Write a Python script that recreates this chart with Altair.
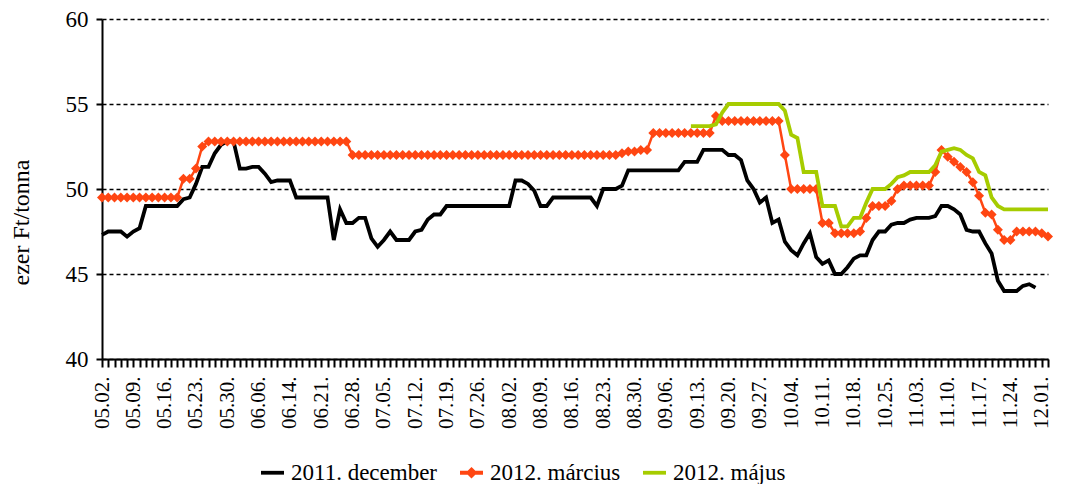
import json
import altair as alt
import pandas as pd

# Category tick labels (every 5th trading day)
labels = ["05.02.", "05.09.", "05.16.", "05.23.", "05.30.", "06.06.", "06.14.", "06.21.",
          "06.28.", "07.05.", "07.12.", "07.19.", "07.26.", "08.02.", "08.09.", "08.16.",
          "08.23.", "08.30.", "09.06.", "09.13.", "09.20.", "09.27.", "10.04.", "10.11.",
          "10.18.", "10.25.", "11.03.", "11.10.", "11.17.", "11.24.", "12.01."]
n_days = 152

series_names = ["2011. december", "2012. március", "2012. május"]
series_colors = ["#000000", "#FF4612", "#A6CC00"]

# 2011. december (from trading day 0)
dec_2011 = [
    47.3, 47.5, 47.5, 47.5, 47.2, 47.5, 47.7, 49.0, 49.0, 49.0,
    49.0, 49.0, 49.0, 49.4, 49.5, 50.3, 51.3, 51.3, 52.1, 52.6,
    52.8, 52.8, 51.2, 51.2, 51.3, 51.3, 50.9, 50.4, 50.5, 50.5,
    50.5, 49.5, 49.5, 49.5, 49.5, 49.5, 49.5, 47.0, 48.8, 48.0,
    48.0, 48.3, 48.3, 47.1, 46.6, 47.0, 47.5, 47.0, 47.0, 47.0,
    47.5, 47.6, 48.2, 48.5, 48.5, 49.0, 49.0, 49.0, 49.0, 49.0,
    49.0, 49.0, 49.0, 49.0, 49.0, 49.0, 50.5, 50.5, 50.3, 49.9,
    49.0, 49.0, 49.5, 49.5, 49.5, 49.5, 49.5, 49.5, 49.5, 49.0,
    50.0, 50.0, 50.0, 50.2, 51.1, 51.1, 51.1, 51.1, 51.1, 51.1,
    51.1, 51.1, 51.1, 51.6, 51.6, 51.6, 52.3, 52.3, 52.3, 52.3,
    52.0, 52.0, 51.7, 50.5, 50.0, 49.2, 49.5, 48.0, 48.2, 46.9,
    46.4, 46.1, 46.8, 47.4, 46.0, 45.6, 45.8, 45.0, 45.0, 45.4,
    45.9, 46.1, 46.1, 47.0, 47.5, 47.5, 47.9, 48.0, 48.0, 48.2,
    48.3, 48.3, 48.3, 48.4, 49.0, 49.0, 48.8, 48.5, 47.6, 47.5,
    47.5, 46.8, 46.2, 44.6, 44.0, 44.0, 44.0, 44.3, 44.4, 44.2,
]

# 2012. március (from trading day 0)
mar_2012 = [
    49.5, 49.5, 49.5, 49.5, 49.5, 49.5, 49.5, 49.5, 49.5, 49.5,
    49.5, 49.5, 49.5, 50.6, 50.6, 51.2, 52.5, 52.8, 52.8, 52.8,
    52.8, 52.8, 52.8, 52.8, 52.8, 52.8, 52.8, 52.8, 52.8, 52.8,
    52.8, 52.8, 52.8, 52.8, 52.8, 52.8, 52.8, 52.8, 52.8, 52.8,
    52.0, 52.0, 52.0, 52.0, 52.0, 52.0, 52.0, 52.0, 52.0, 52.0,
    52.0, 52.0, 52.0, 52.0, 52.0, 52.0, 52.0, 52.0, 52.0, 52.0,
    52.0, 52.0, 52.0, 52.0, 52.0, 52.0, 52.0, 52.0, 52.0, 52.0,
    52.0, 52.0, 52.0, 52.0, 52.0, 52.0, 52.0, 52.0, 52.0, 52.0,
    52.0, 52.0, 52.0, 52.1, 52.2, 52.2, 52.3, 52.3, 53.3, 53.3,
    53.3, 53.3, 53.3, 53.3, 53.3, 53.3, 53.3, 53.3, 54.3, 54.0,
    54.0, 54.0, 54.0, 54.0, 54.0, 54.0, 54.0, 54.0, 54.0, 52.0,
    50.0, 50.0, 50.0, 50.0, 50.0, 48.0, 48.0, 47.4, 47.4, 47.4,
    47.4, 47.5, 48.3, 49.0, 49.0, 49.0, 49.3, 50.0, 50.2, 50.2,
    50.2, 50.2, 50.2, 51.0, 52.3, 51.9, 51.6, 51.3, 51.0, 50.4,
    49.6, 48.6, 48.5, 47.6, 47.0, 47.0, 47.5, 47.5, 47.5, 47.5,
    47.4, 47.2,
]

# 2012. május (from trading day 94)
maj_start = 94
maj_2012 = [
    53.7, 53.7, 53.7, 53.7, 53.8, 54.5, 55.0, 55.0, 55.0, 55.0,
    55.0, 55.0, 55.0, 55.0, 55.0, 54.6, 53.2, 53.0, 51.0, 51.0,
    51.0, 49.0, 49.0, 49.0, 47.8, 47.8, 48.3, 48.3, 49.2, 50.0,
    50.0, 50.0, 50.3, 50.7, 50.8, 51.0, 51.0, 51.0, 51.0, 51.4,
    52.2, 52.3, 52.4, 52.3, 52.0, 51.8, 51.0, 50.8, 49.5, 49.0,
    48.8, 48.8, 48.8, 48.8, 48.8, 48.8, 48.8, 48.8,
]

rows = []
for i, v in enumerate(dec_2011):
    rows.append({"idx": i, "value": v, "series": series_names[0]})
for i, v in enumerate(mar_2012):
    rows.append({"idx": i, "value": v, "series": series_names[1]})
for i, v in enumerate(maj_2012):
    rows.append({"idx": maj_start + i, "value": v, "series": series_names[2]})
df = pd.DataFrame(rows)

FONT = "Liberation Serif"
label_expr = "datum.value % 5 === 0 ? " + json.dumps(labels) + "[datum.value / 5] : ''"

x_enc = alt.X(
    "idx:Q",
    scale=alt.Scale(domain=[0, n_days - 1], nice=False, zero=False),
    axis=alt.Axis(
        values=list(range(n_days)), labelExpr=label_expr, labelAngle=270,
        labelFont=FONT, labelFontSize=21, labelColor="black", labelPadding=9,
        labelOverlap=False, labelFlush=False, labelBound=False,
        tickSize=8, tickWidth=2, tickColor="black",
        domainColor="black", domainWidth=2, grid=False, title=None,
    ),
)
y_enc = alt.Y(
    "value:Q",
    scale=alt.Scale(domain=[40, 60], nice=False, zero=False),
    axis=alt.Axis(
        values=[40, 45, 50, 55, 60], labelFont=FONT, labelFontSize=23, labelColor="black",
        labelPadding=8, tickSize=6, tickWidth=2, tickColor="black",
        domainColor="black", domainWidth=2,
        grid=True, gridColor="black", gridDash=[4, 3], gridWidth=1.6,
        title="ezer Ft/tonna", titleFont=FONT, titleFontSize=24, titleFontWeight="normal",
        titleColor="black", titleX=-69, titleY=203,
    ),
)

base = alt.Chart(df)

def sel(name):
    return alt.datum.series == name

black_line = base.mark_line(color=series_colors[0], strokeWidth=3.8).encode(
    x=x_enc, y=y_enc).transform_filter(sel(series_names[0]))
orange_line = base.mark_line(color=series_colors[1], strokeWidth=2.5).encode(
    x=x_enc, y=y_enc).transform_filter(sel(series_names[1]))
orange_pts = base.mark_point(shape="diamond", filled=True, size=100, color=series_colors[1],
                             opacity=1).encode(
    x=x_enc, y=y_enc).transform_filter(sel(series_names[1]))
green_line = base.mark_line(color=series_colors[2], strokeWidth=3.8).encode(
    x=x_enc, y=y_enc).transform_filter(sel(series_names[2]))

line_path = "M-1,0L1,0"
diamond_path = "M-1,0L1,0M0,-0.27L0.27,0L0,0.27L-0.27,0Z"

legend = alt.Legend(
    orient="none", legendX=157, legendY=440, direction="horizontal", title=None,
    labelFont=FONT, labelFontSize=23, labelColor="black", symbolSize=529,
    symbolStrokeWidth=3.8, symbolOpacity=1, columnPadding=14, labelOffset=5, padding=0,
)
legend_layer = base.mark_point(filled=False, opacity=0).encode(
    x=x_enc, y=y_enc,
    color=alt.Color("series:N", scale=alt.Scale(domain=series_names, range=series_colors),
                    legend=legend),
    shape=alt.Shape("series:N", scale=alt.Scale(domain=series_names,
                                                range=[line_path, diamond_path, line_path]),
                    legend=legend),
)

chart = alt.layer(black_line, orange_line, orange_pts, green_line, legend_layer).properties(
    width=946, height=340,
    autosize=alt.AutoSizeParams(type="none"),
    padding={"left": 94, "top": 11, "right": 9, "bottom": 125},
).configure_view(stroke=None)

chart.save("out.html", embed_options={"renderer": "svg", "actions": False})
